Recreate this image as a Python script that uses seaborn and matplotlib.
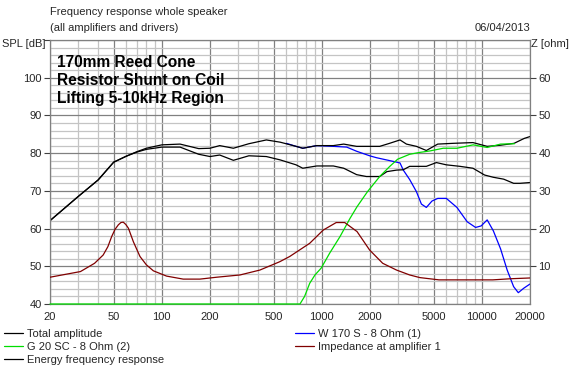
import matplotlib
matplotlib.use('Agg')
import matplotlib.pyplot as plt
import matplotlib.ticker as mticker
import seaborn as sns

# Total amplitude (upper black)
total_f = [20, 30, 40, 50, 60, 70, 80, 100, 130, 170, 200, 230, 280, 350, 450, 550, 690, 760, 930,
           1180, 1370, 1650, 1900, 2300, 2650, 3080, 3380, 3900, 4500, 5300, 6600, 8800, 10800,
           13100, 15900, 18400, 20000]
total_db = [62.1, 68.5, 72.9, 77.6, 79.2, 80.4, 81.3, 82.2, 82.4, 81.2, 81.3, 82.0, 81.3, 82.5, 83.5,
            82.9, 81.8, 81.3, 82.0, 82.0, 82.4, 81.8, 81.8, 81.8, 82.6, 83.5, 82.4, 81.8, 80.7, 82.4,
            82.6, 82.8, 81.8, 82.1, 82.6, 83.9, 84.4]

# Energy frequency response (lower black)
energy_f = [20, 30, 40, 50, 60, 70, 80, 100, 130, 170, 200, 230, 280, 350, 450, 550, 690, 760, 930,
            1180, 1370, 1650, 1900, 2300, 2550, 2930, 3230, 3540, 4500, 5200, 6000, 7300, 8800,
            10400, 11800, 13700, 15800, 17300, 20000]
energy_db = [62.1, 68.5, 72.9, 77.6, 79.2, 80.3, 81.0, 81.6, 81.6, 79.7, 79.1, 79.5, 78.1, 79.3, 79.1,
             78.2, 76.9, 76.0, 76.6, 76.6, 76.0, 74.3, 73.8, 73.8, 75.1, 75.5, 75.6, 76.5, 76.5, 77.5,
             76.9, 76.5, 76.0, 74.2, 73.6, 73.1, 72.0, 72.0, 72.2]

# W 170 S - 8 Ohm (1)
woofer_f = [600, 690, 760, 930, 1180, 1430, 1650, 1990, 2190, 2800, 3080, 3230, 3540, 3900, 4190,
            4500, 4880, 5300, 6000, 6990, 8100, 9140, 9900, 10800, 11800, 13100, 14400, 15800,
            16900, 18300, 20000]
woofer_db = [82.6, 81.8, 81.3, 82.0, 81.8, 81.6, 80.5, 79.3, 78.8, 77.8, 77.4, 75.5, 73.0, 69.8, 66.5,
             65.6, 67.3, 68.0, 68.0, 65.6, 61.8, 60.3, 60.7, 62.3, 59.4, 54.6, 49.0, 44.6, 43.0, 44.2,
             45.3]

# G 20 SC - 8 Ohm (2)
tweeter_f = [20, 730, 780, 840, 906, 990, 1120, 1300, 1500, 1660, 1930, 2300, 2660, 2980, 3540, 4100,
             4760, 5740, 6990, 8830, 10800, 13100, 16000]
tweeter_db = [40, 40, 42.0, 45.5, 47.7, 49.5, 53.5, 57.9, 62.7, 65.8, 69.8, 73.8, 76.5, 78.4, 79.7,
              80.2, 80.6, 81.3, 81.3, 82.2, 81.5, 82.4, 82.5]

# Impedance at amplifier 1 (ohm)
imp_f = [20, 31, 38, 43, 46, 48.6, 51, 53.5, 55.5, 57.4, 59.5, 61.8, 66.4, 73, 80, 88.5, 107, 136,
         173, 220, 308, 410, 545, 630, 840, 1020, 1230, 1390, 1660, 1990, 2400, 2930, 3540, 4100,
         5400, 8000, 11700, 15200, 20000]
imp_ohm = [7.1, 8.6, 10.8, 13.0, 15.2, 17.9, 19.8, 21.0, 21.6, 21.7, 21.1, 20.1, 16.5, 12.6, 10.4,
           8.8, 7.4, 6.6, 6.6, 7.1, 7.7, 9.0, 11.2, 12.6, 16.1, 19.6, 21.6, 21.6, 19.2, 14.3, 10.8,
           9.0, 7.7, 7.0, 6.4, 6.4, 6.4, 6.7, 6.9]

freq_ticks = [20, 50, 100, 200, 500, 1000, 2000, 5000, 10000, 20000]
spl_ticks = [40, 50, 60, 70, 80, 90, 100]
z_ticks = [10, 20, 30, 40, 50, 60]

sns.set_style('white')
plt.rcParams['font.family'] = ['Liberation Sans', 'DejaVu Sans']

W, H = 576, 369
fig = plt.figure(figsize=(W / 100, H / 100), dpi=100)
ax = fig.add_axes([50 / W, 1 - 304 / H, 480 / W, 264 / H])
ax.set_xscale('log')
ax2 = ax.twinx()

lw = 0.9
sns.lineplot(x=imp_f, y=imp_ohm, ax=ax2, color='#800000', lw=lw, sort=False, estimator=None)
sns.lineplot(x=tweeter_f, y=tweeter_db, ax=ax, color='#00dd00', lw=lw, sort=False,
             estimator=None, clip_on=False, zorder=3)
sns.lineplot(x=woofer_f, y=woofer_db, ax=ax, color='#0000ff', lw=lw, sort=False, estimator=None)
sns.lineplot(x=energy_f, y=energy_db, ax=ax, color='black', lw=lw, sort=False, estimator=None)
sns.lineplot(x=total_f, y=total_db, ax=ax, color='black', lw=lw, sort=False, estimator=None)
ax.set_xlabel('')
ax.set_ylabel('')
ax2.set_ylabel('')

ax.set_xlim(20, 20000)
ax.set_ylim(40, 110)
ax2.set_ylim(0, 70)

# grid and ticks
ax.xaxis.set_major_locator(mticker.FixedLocator(freq_ticks))
ax.xaxis.set_minor_locator(mticker.LogLocator(base=10, subs=range(1, 10), numticks=20))
ax.xaxis.set_major_formatter(mticker.FuncFormatter(lambda v, p: f'{int(round(v))}'))
ax.xaxis.set_minor_formatter(mticker.NullFormatter())
ax.yaxis.set_major_locator(mticker.FixedLocator(spl_ticks + [110]))
ax.yaxis.set_major_formatter(mticker.FuncFormatter(lambda v, p: '' if v > 100 else f'{int(v)}'))
ax.yaxis.set_minor_locator(mticker.MultipleLocator(2))
ax.grid(True, which='minor', color='#c4c4c4', lw=0.9)
ax.grid(True, which='major', color='#808080', lw=0.9)
ax.set_axisbelow(True)
ax.tick_params(axis='both', which='major', direction='out', length=4, width=0.8,
               color='#404040', labelsize=8, pad=2)
ax.tick_params(axis='both', which='minor', length=0)
for s in ax.spines.values():
    s.set_color('#808080')
    s.set_linewidth(0.9)

ax2.set_yticks(z_ticks)
ax2.tick_params(axis='y', direction='out', length=4, width=0.8, color='#404040',
                labelsize=8, pad=2)
ax2.grid(False)
for s in ax2.spines.values():
    s.set_visible(False)

ax.text(0.015, 0.945,
        '170mm Reed Cone\nResistor Shunt on Coil\nLifting 5-10kHz Region',
        transform=ax.transAxes, fontsize=11.2, fontweight='bold', va='top', ha='left',
        linespacing=1.25, color='black')

def px(x, y):
    return x / W, 1 - y / H

fig.text(*px(50, 12), 'Frequency response whole speaker', fontsize=8, va='center', ha='left')
fig.text(*px(50, 28), '(all amplifiers and drivers)', fontsize=8, va='center', ha='left')
fig.text(*px(530, 28), '06/04/2013', fontsize=8, va='center', ha='right')
fig.text(*px(46, 44), 'SPL [dB]', fontsize=8, va='center', ha='right')
fig.text(*px(531, 44), 'Z [ohm]', fontsize=8, va='center', ha='left')

handles = [plt.Line2D([], [], color='black', lw=lw),
           plt.Line2D([], [], color='#00dd00', lw=lw),
           plt.Line2D([], [], color='black', lw=lw),
           plt.Line2D([], [], color='#0000ff', lw=lw),
           plt.Line2D([], [], color='#800000', lw=lw)]
labels = ['Total amplitude', 'G 20 SC - 8 Ohm (2)', 'Energy frequency response',
          'W 170 S - 8 Ohm (1)', 'Impedance at amplifier 1']
fig.legend(handles, labels, ncol=2, loc='upper left', bbox_to_anchor=px(4, 329),
           frameon=False, fontsize=8, handlelength=1.7, handletextpad=0.35,
           columnspacing=11.8, labelspacing=0.28, borderpad=0, borderaxespad=0)

fig.savefig('out.png', dpi=100, facecolor='white')
